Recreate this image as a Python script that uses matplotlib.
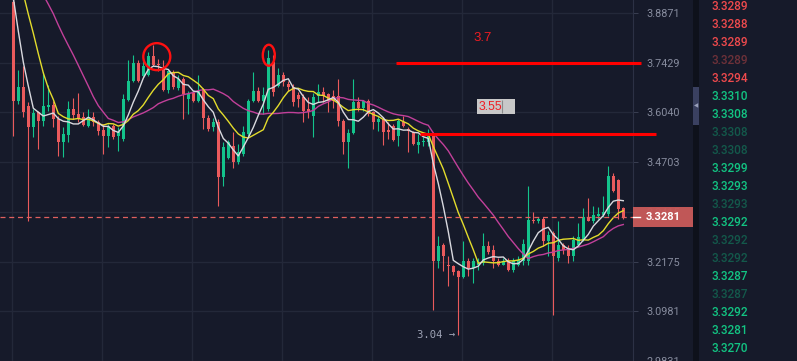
import numpy as np
import pandas as pd
import matplotlib
matplotlib.use("Agg")
import matplotlib.pyplot as plt
from matplotlib.patches import Rectangle, Ellipse
from matplotlib.transforms import ScaledTranslation, IdentityTransform
from matplotlib.ticker import NullLocator

plt.rcParams['font.family'] = ['Roboto', 'DejaVu Sans']

# ---------------- data ----------------
opens = [3.919, 3.635, 3.673, 3.621, 3.564, 3.604, 3.580, 3.618, 3.624, 3.585,
         3.524, 3.543, 3.612, 3.599, 3.591, 3.567, 3.591, 3.577, 3.556, 3.540,
         3.567, 3.540, 3.532, 3.637, 3.690, 3.743, 3.704, 3.709, 3.763, 3.740,
         3.726, 3.665, 3.715, 3.671, 3.696, 3.640, 3.657, 3.635, 3.668, 3.588,
         3.564, 3.577, 3.432, 3.481, 3.513, 3.470, 3.492, 3.545, 3.635, 3.662,
         3.635, 3.612, 3.746, 3.676, 3.709, 3.682, 3.673, 3.651, 3.646, 3.612,
         3.593, 3.649, 3.660, 3.654, 3.649, 3.649, 3.580, 3.524, 3.548, 3.632,
         3.615, 3.635, 3.604, 3.577, 3.585, 3.556, 3.567, 3.540, 3.577, 3.559,
         3.551, 3.516, 3.524, 3.524, 3.540, 3.220, 3.257, 3.208, 3.206, 3.194,
         3.179, 3.218, 3.201, 3.210, 3.215, 3.255, 3.245, 3.218, 3.210, 3.220,
         3.196, 3.208, 3.220, 3.218, 3.322, 3.317, 3.324, 3.267, 3.287, 3.225,
         3.257, 3.250, 3.230, 3.257, 3.270, 3.329, 3.317, 3.332, 3.334, 3.337,
         3.434, 3.424, 3.352]
highs = [3.949, 3.721, 3.732, 3.632, 3.612, 3.607, 3.715, 3.679, 3.635, 3.593,
         3.564, 3.635, 3.643, 3.657, 3.604, 3.612, 3.604, 3.583, 3.572, 3.572,
         3.572, 3.564, 3.654, 3.749, 3.766, 3.749, 3.752, 3.772, 3.792, 3.754,
         3.749, 3.723, 3.723, 3.707, 3.701, 3.662, 3.662, 3.709, 3.671, 3.596,
         3.588, 3.585, 3.524, 3.529, 3.551, 3.518, 3.567, 3.640, 3.715, 3.673,
         3.673, 3.780, 3.766, 3.729, 3.715, 3.690, 3.682, 3.660, 3.654, 3.646,
         3.657, 3.682, 3.673, 3.657, 3.665, 3.696, 3.585, 3.559, 3.698, 3.646,
         3.637, 3.640, 3.607, 3.593, 3.591, 3.577, 3.572, 3.585, 3.593, 3.564,
         3.553, 3.545, 3.537, 3.559, 3.545, 3.280, 3.262, 3.232, 3.208, 3.196,
         3.267, 3.225, 3.225, 3.225, 3.287, 3.267, 3.257, 3.225, 3.225, 3.225,
         3.225, 3.232, 3.274, 3.409, 3.342, 3.329, 3.329, 3.292, 3.294, 3.319,
         3.262, 3.257, 3.280, 3.312, 3.352, 3.378, 3.357, 3.354, 3.383, 3.460,
         3.442, 3.427, 3.354]
lows = [3.540, 3.626, 3.591, 3.317, 3.537, 3.505, 3.567, 3.607, 3.564, 3.486,
        3.484, 3.524, 3.585, 3.577, 3.567, 3.564, 3.567, 3.543, 3.492, 3.510,
        3.532, 3.500, 3.526, 3.635, 3.687, 3.687, 3.701, 3.704, 3.732, 3.718,
        3.662, 3.657, 3.668, 3.665, 3.585, 3.599, 3.632, 3.632, 3.559, 3.553,
        3.553, 3.357, 3.409, 3.478, 3.455, 3.465, 3.486, 3.540, 3.632, 3.632,
        3.599, 3.607, 3.649, 3.673, 3.676, 3.662, 3.621, 3.618, 3.577, 3.588,
        3.537, 3.632, 3.632, 3.604, 3.615, 3.567, 3.492, 3.455, 3.545, 3.607,
        3.607, 3.593, 3.559, 3.553, 3.516, 3.532, 3.526, 3.513, 3.564, 3.497,
        3.516, 3.494, 3.513, 3.513, 3.100, 3.201, 3.194, 3.158, 3.184, 3.043,
        3.177, 3.182, 3.165, 3.196, 3.208, 3.237, 3.201, 3.206, 3.208, 3.194,
        3.191, 3.206, 3.208, 3.208, 3.312, 3.312, 3.255, 3.232, 3.089, 3.220,
        3.237, 3.213, 3.218, 3.255, 3.267, 3.317, 3.312, 3.324, 3.329, 3.332,
        3.393, 3.324, 3.324]
closes = [3.635, 3.673, 3.604, 3.564, 3.601, 3.580, 3.621, 3.624, 3.585, 3.524,
          3.545, 3.612, 3.596, 3.585, 3.569, 3.591, 3.577, 3.553, 3.540, 3.567,
          3.537, 3.551, 3.640, 3.690, 3.743, 3.690, 3.732, 3.763, 3.737, 3.735,
          3.665, 3.718, 3.673, 3.698, 3.654, 3.654, 3.635, 3.662, 3.588, 3.559,
          3.577, 3.432, 3.510, 3.524, 3.470, 3.497, 3.551, 3.635, 3.662, 3.635,
          3.651, 3.757, 3.660, 3.709, 3.687, 3.673, 3.632, 3.640, 3.607, 3.604,
          3.646, 3.660, 3.649, 3.635, 3.635, 3.580, 3.524, 3.548, 3.632, 3.615,
          3.635, 3.599, 3.577, 3.585, 3.551, 3.551, 3.529, 3.580, 3.567, 3.553,
          3.518, 3.524, 3.527, 3.545, 3.220, 3.255, 3.230, 3.206, 3.191, 3.179,
          3.218, 3.201, 3.218, 3.215, 3.255, 3.242, 3.218, 3.210, 3.218, 3.196,
          3.218, 3.222, 3.260, 3.322, 3.317, 3.324, 3.267, 3.282, 3.230, 3.257,
          3.245, 3.230, 3.270, 3.277, 3.329, 3.317, 3.334, 3.337, 3.342, 3.434,
          3.396, 3.349, 3.3281]
# closes of the candles left of the visible window (only feed the moving averages)
prior_closes = [4.18, 4.15, 4.19, 4.16, 4.14, 4.18, 4.17, 4.15, 4.19, 4.16,
                4.18, 4.15, 4.17, 4.16, 4.17, 4.17, 4.05, 3.90, 3.91]

price_ticks = [3.8871, 3.7429, 3.6040, 3.4703, 3.3415, 3.2175, 3.0981, 2.9831]
price_labels = ['3.8871', '3.7429', '3.6040', '3.4703', '3.3415', '3.2175', '3.0981', '2.9831']

book_prices = ['3.3289', '3.3288', '3.3289', '3.3289', '3.3294',
               '3.3310', '3.3308', '3.3308', '3.3308', '3.3299',
               '3.3293', '3.3293', '3.3292', '3.3292', '3.3292',
               '3.3287', '3.3287', '3.3292', '3.3281', '3.3270']
book_side = ['ask'] * 5 + ['bid'] * 15
book_dim = [0, 0, 0, 1, 0, 0, 0, 1, 1, 0, 0, 1, 0, 1, 1, 0, 1, 0, 0, 0]

# hand-drawn marks on the chart
level_lines = [3.743, 3.544]
level_text = ['3.7', '3.55']
low_label = '3.04'

# ---------------- style ----------------
bg = '#161a2a'
grid_c = '#232839'
up_c = '#13c38b'
dn_c = '#ea5a5c'
W, H = 797, 361

fig = plt.figure(figsize=(W / 100, H / 100), dpi=100, facecolor=bg)
ax = fig.add_axes([0, 0, 633 / W, 1])
ax.set_facecolor(bg)

o = np.array(opens); h = np.array(highs); l = np.array(lows); c = np.array(closes)
x = np.arange(len(c))
up = c >= o
cols = np.where(up, up_c, dn_c)

ax.set_yscale('log')
ax.set_xlim(-2.66, 123.94)
ax.set_ylim(2.9877, 3.9255)

# grid
for gx in np.arange(7) * 18 - 0.25:
    ax.axvline(gx, color=grid_c, lw=1, zorder=0)
for t in price_ticks:
    ax.axhline(t, color=grid_c, lw=1, zorder=0)

# candles
ax.vlines(x, l, h, colors=cols, lw=0.8, zorder=2)
body = np.maximum(np.abs(c - o), 0.0025)
ax.bar(x, body, bottom=np.minimum(o, c), width=0.62, color=cols, lw=0, zorder=3)

# moving averages
full = pd.Series(prior_closes + closes)
ma5 = full.rolling(5).mean().values[len(prior_closes):]
ma10 = full.rolling(10).mean().values[len(prior_closes):]
ma20 = full.rolling(20).mean().values[len(prior_closes):]
ax.plot(x, ma20, color='#c2409a', lw=1.0, zorder=4)
ax.plot(x, ma10, color='#e3dc2c', lw=1.0, zorder=4)
ax.plot(x, ma5, color='#d9d9df', lw=1.0, zorder=5)

# last price line
ax.axhline(c[-1], color='#e0605e', lw=0.9, ls=(0, (4, 3)), zorder=6)

# price axis on the right
ax.yaxis.tick_right()
ax.yaxis.set_minor_locator(NullLocator())
ax.set_yticks(price_ticks)
ax.set_yticklabels(price_labels)
ax.tick_params(axis='y', length=3.6, width=0.7, color='#3a3f52', pad=6,
               labelsize=7.8, labelcolor='#878c9e')
ax.set_xticks([])
for s in ['top', 'left', 'bottom']:
    ax.spines[s].set_visible(False)
ax.spines['right'].set_color('#2c3145')

# drawings: circles around the tops
for (cx, cy, w, hh) in [(28.7, 3.760, 0.27, 0.27), (51.1, 3.764, 0.12, 0.21)]:
    tr = fig.dpi_scale_trans + ScaledTranslation(cx, cy, ax.transData)
    ax.add_artist(Ellipse((0, 0), w, hh, transform=tr, fill=False,
                          ec='#ff1010', lw=1.7, zorder=8))

ax.hlines(level_lines[0], 76.5, 125.5, color='#ff0000', lw=2.2, clip_on=False, zorder=8)
ax.hlines(level_lines[1], 81.3, 128.5, color='#ff0000', lw=2.2, clip_on=False, zorder=8)
ax.text(93.9, 3.813, level_text[0], color='#f01c22', fontsize=9.5,
        family='Liberation Sans', ha='center', va='center', zorder=8)
ax.add_patch(Rectangle((92.7, 3.599), 7.6, 0.041, color='#c8c8c8', lw=0, zorder=7))
ax.vlines(97.7, 3.601, 3.638, color='#8a8a8a', lw=0.8, zorder=8)
ax.text(93.0, 3.619, level_text[1], color='#f01c22', fontsize=8.8,
        family='Liberation Sans', ha='left', va='center', zorder=8)

# lowest price marker
ax.text(88.4, l.min(), low_label + ' \u2192', color='#9ea3b5', fontsize=7.6,
        family='DejaVu Sans Mono', ha='right', va='center', zorder=8)

# last price tag
yp = ax.transData.transform((0, c[-1]))[1]
fig.patches.append(Rectangle((633, yp - 10), 60, 20, transform=IdentityTransform(),
                             color='#c85a5a', alpha=0.96, lw=0, zorder=10))
fig.lines.append(plt.Line2D([633, 640], [yp, yp], transform=IdentityTransform(),
                            color='white', lw=1, zorder=11))
fig.text(646 / W, yp / H, '%.4f' % c[-1], color='white', fontsize=8,
         fontweight='bold', ha='left', va='center', zorder=11)

# separator and order book column
fig.patches.append(Rectangle((693 / W, 0), 6 / W, 1, transform=fig.transFigure,
                             color='#0e111b', lw=0, zorder=1))
fig.patches.append(Rectangle((693 / W, (H - 125) / H), 6 / W, 38 / H,
                             transform=fig.transFigure, color='#3a4060', lw=0, zorder=2))
fig.text(696 / W, (H - 106) / H, '\u25c0', color='#9aa0bb', fontsize=4,
         family='DejaVu Sans', ha='center', va='center', zorder=3)

colmap = {('ask', 0): '#f04a4d', ('ask', 1): '#6e3139',
          ('bid', 0): '#12c583', ('bid', 1): '#13594b'}
for k, (p, sd, dm) in enumerate(zip(book_prices, book_side, book_dim)):
    yy = 6.7 + 18 * k
    fig.text(711 / W, 1 - yy / H, p, color=colmap[(sd, dm)], fontsize=8.5,
             fontweight='medium', ha='left', va='center')

fig.savefig('out.png', dpi=100, facecolor=bg)
